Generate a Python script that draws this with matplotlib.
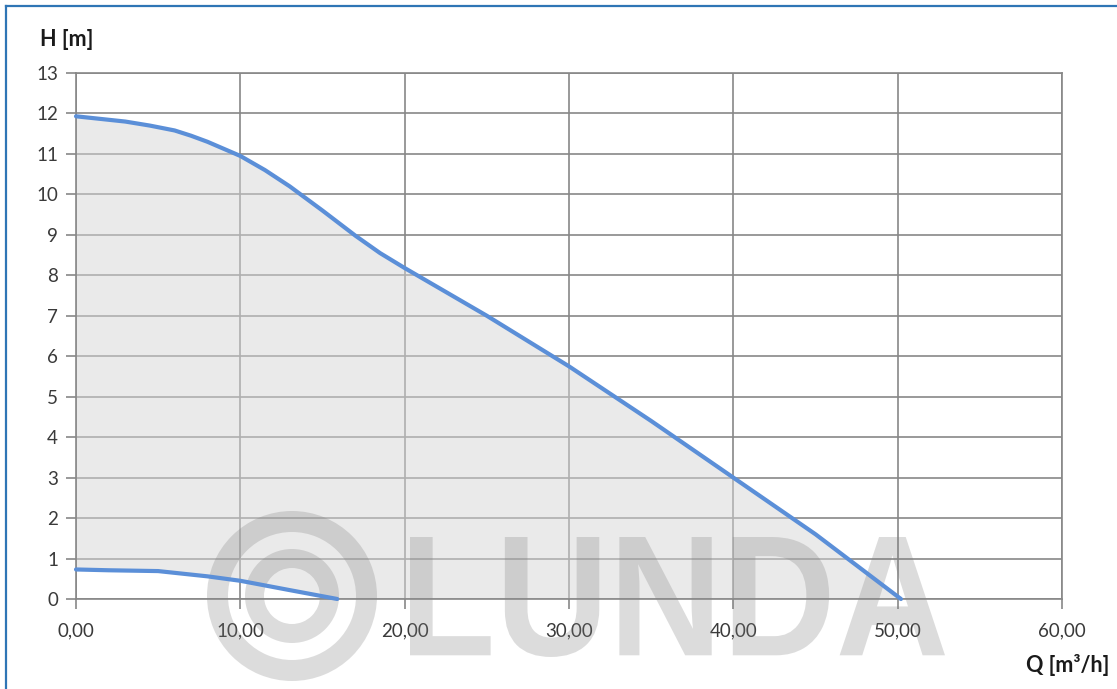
import matplotlib
matplotlib.use("Agg")
import matplotlib.pyplot as plt
from matplotlib.ticker import FixedLocator, FuncFormatter
from matplotlib.transforms import Affine2D
from matplotlib.textpath import TextPath
from matplotlib.font_manager import FontProperties
from matplotlib.patches import PathPatch, Wedge
from matplotlib.lines import Line2D

# ---- data ----
q_main = [0, 3, 4.5, 6, 7, 8, 10, 11.5, 13, 15, 17, 18.5, 20, 25, 30, 35, 40, 45, 50.2]
h_main = [11.93, 11.80, 11.70, 11.58, 11.45, 11.3, 10.95, 10.6, 10.2, 9.6, 8.98, 8.55,
          8.18, 7.0, 5.75, 4.4, 3.0, 1.6, 0.0]

q_low = [0, 2, 5, 8, 10, 13, 15.9]
h_low = [0.73, 0.71, 0.69, 0.56, 0.45, 0.22, 0.0]

x_ticks = [0, 10, 20, 30, 40, 50, 60]
y_ticks = list(range(0, 14))

x_label = "Q [m³/h]"
y_label = "H [m]"
watermark = "LUNDA"

# ---- figure ----
W, H = 1117, 689
fig = plt.figure(figsize=(W / 100, H / 100), dpi=100)
fig.patch.set_facecolor("white")

# transform in image-pixel coordinates (origin top-left)
img = Affine2D().scale(1, -1).translate(0, H).scale(1 / W, 1 / H) + fig.transFigure

left, right, top, bottom = 76, 1062, 73, 599
ax = fig.add_axes([left / W, 1 - bottom / H, (right - left) / W, (bottom - top) / H])

grid_c = "#878787"
ax.set_xlim(0, 60)
ax.set_ylim(0, 13)
ax.xaxis.set_major_locator(FixedLocator(x_ticks))
ax.yaxis.set_major_locator(FixedLocator(y_ticks))
ax.xaxis.set_major_formatter(FuncFormatter(lambda v, p: f"{v:.2f}".replace(".", ",")))
ax.yaxis.set_major_formatter(FuncFormatter(lambda v, p: f"{int(v)}"))
ax.set_axisbelow(True)
ax.grid(True, color=grid_c, lw=1.2)
for s in ax.spines.values():
    s.set_color(grid_c)
    s.set_linewidth(1.2)

font = "Lato"
ax.tick_params(axis="both", colors=grid_c, width=1.2, length=7, labelcolor="#3a3a3a",
               labelsize=13.5)
ax.tick_params(axis="x", pad=10)
ax.tick_params(axis="y", pad=6)
for lab in ax.get_xticklabels() + ax.get_yticklabels():
    lab.set_fontfamily(font)

# filled region between main curve and lower curve
poly_x = list(q_main) + [q_low[-1]] + list(reversed(q_low))
poly_y = list(h_main) + [0.0] + list(reversed(h_low))
ax.fill(poly_x, poly_y, color="#d6d6d6", alpha=0.5, lw=0, zorder=1.5)

# watermark: rings + LUNDA
wm_c = (0.5, 0.5, 0.5)
wm_a = 0.27
cx, cy = 292, 596
ax.add_patch(Wedge((cx, cy), 85, 0, 360, width=21, transform=img, color=wm_c,
                   alpha=wm_a, lw=0, clip_on=False, zorder=2.5))
ax.add_patch(Wedge((cx, cy), 47, 0, 360, width=19, transform=img, color=wm_c,
                   alpha=wm_a, lw=0, clip_on=False, zorder=2.5))
tp = TextPath((0, 0), watermark, size=100,
              prop=FontProperties(family="Liberation Sans", weight="bold"))
ext = tp.get_extents()
x0, x1, y0, y1 = 410, 945, 537, 657
tr = (Affine2D().translate(-ext.x0, -ext.y0)
      .scale((x1 - x0) / ext.width, -(y1 - y0) / ext.height)
      .translate(x0, y1)) + img
ax.add_patch(PathPatch(tp, transform=tr, color=wm_c, alpha=wm_a, lw=0,
                       clip_on=False, zorder=2.5))

# curves
lc = "#5b8fd8"
ax.plot(q_main, h_main, color=lc, lw=3, solid_capstyle="round", solid_joinstyle="round",
        zorder=3, clip_on=False)
ax.plot(q_low, h_low, color=lc, lw=3, solid_capstyle="round", solid_joinstyle="round",
        zorder=3, clip_on=False)

# axis titles
fig.text(40 / W, 1 - 40 / H, y_label, fontsize=15.5, fontweight="bold", family=font,
         color="#1a1a1a", ha="left", va="center")
fig.text(1109 / W, 1 - 665 / H, x_label, fontsize=15.5, fontweight="bold", family=font,
         color="#1a1a1a", ha="right", va="center")

# blue frame (left and top)
frame_c = "#2f75b5"
fig.add_artist(Line2D([6, 6], [689, 6], transform=img, color=frame_c, lw=1.6))
fig.add_artist(Line2D([6, 1117], [6, 6], transform=img, color=frame_c, lw=1.6))

fig.savefig("out.png", dpi=100, facecolor="white")
